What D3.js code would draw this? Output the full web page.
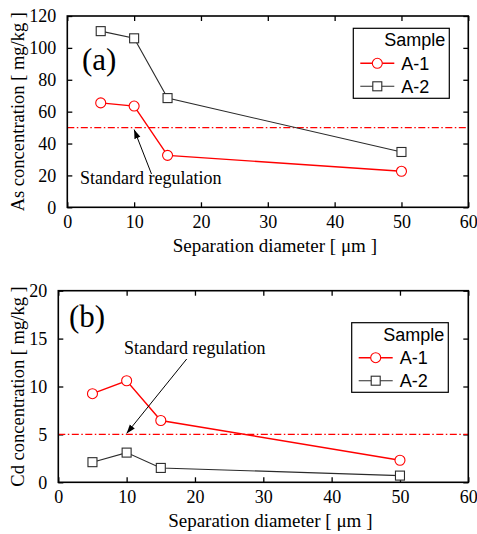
<!DOCTYPE html>
<html>
<head>
<meta charset="utf-8">
<script src="https://cdn.jsdelivr.net/npm/d3@7"></script>
<style>
  html, body { margin: 0; padding: 0; background: #fff; }
  svg { display: block; }
</style>
</head>
<body>
<script>
// Separation diameters (µm)
const diameters = [5, 10, 15, 50];

// (a) Arsenic concentration, mg/kg
const asA1 = [65.5, 63.5, 32.6, 22.6];
const asA2 = [110.5, 106, 68.5, 34.7];
const asStandard = 50;

// (b) Cadmium concentration, mg/kg
const cdA1 = [9.25, 10.6, 6.45, 2.3];
const cdA2 = [2.1, 3.1, 1.5, 0.7];
const cdStandard = 5;

const xTicks = [0, 10, 20, 30, 40, 50, 60];
const asTicks = [0, 20, 40, 60, 80, 100, 120];
const cdTicks = [0, 5, 10, 15, 20];
const sampleNames = ["A-1", "A-2"];

const W = 477, H = 534;
const RED = "#ff0000", DARK = "#2b2b2b";
const SERIF = "Liberation Serif, Times New Roman, serif";
const SANS = "Liberation Sans, Arial, sans-serif";

const svg = d3.select("body").append("svg")
  .attr("width", W).attr("height", H);

const defs = svg.append("defs");
defs.append("marker")
  .attr("id", "arrowhead")
  .attr("viewBox", "0 0 10 10")
  .attr("refX", 10).attr("refY", 5)
  .attr("markerWidth", 9).attr("markerHeight", 9)
  .attr("markerUnits", "userSpaceOnUse")
  .attr("orient", "auto")
  .append("path").attr("d", "M0,1.5 L10,5 L0,8.5 Z").attr("fill", "#000");

function panel(cfg) {
  const x = d3.scaleLinear().domain([0, 60]).range([cfg.left, cfg.right]);
  const y = d3.scaleLinear().domain(cfg.yDomain).range([cfg.bottom, cfg.top]);
  const g = svg.append("g");
  const tick = 5;

  // Axes with inward ticks on all four sides
  const axB = g.append("g").attr("transform", `translate(0,${cfg.bottom})`)
    .call(d3.axisBottom(x).tickValues(xTicks).tickSize(-tick).tickPadding(tick + 6).tickFormat(d3.format("d")));
  const axT = g.append("g").attr("transform", `translate(0,${cfg.top})`)
    .call(d3.axisTop(x).tickValues(xTicks).tickSize(-tick).tickFormat(""));
  const axL = g.append("g").attr("transform", `translate(${cfg.left},0)`)
    .call(d3.axisLeft(y).tickValues(cfg.yTicks).tickSize(-tick).tickPadding(tick + 6).tickFormat(d3.format("d")));
  const axR = g.append("g").attr("transform", `translate(${cfg.right},0)`)
    .call(d3.axisRight(y).tickValues(cfg.yTicks).tickSize(-tick).tickFormat(""));
  [axB, axT, axL, axR].forEach(a => {
    a.attr("font-family", SERIF).attr("font-size", 18);
    a.select(".domain").remove();
    a.selectAll(".tick line").attr("stroke", "#000").attr("stroke-width", 1.3);
    a.selectAll("text").attr("fill", "#000");
  });
  axB.selectAll("text").attr("dy", "0.55em");

  // Standard regulation line
  g.append("line")
    .attr("x1", cfg.left).attr("x2", cfg.right)
    .attr("y1", y(cfg.standard)).attr("y2", y(cfg.standard))
    .attr("stroke", RED).attr("stroke-width", 1.4)
    .attr("stroke-dasharray", "7,2.5,1.5,2.5");

  const line = d3.line().x((d, i) => x(diameters[i])).y(d => y(d));

  // A-2 series
  g.append("path").datum(cfg.a2).attr("d", line)
    .attr("fill", "none").attr("stroke", DARK).attr("stroke-width", 1.1);
  g.selectAll(".sq").data(cfg.a2).join("rect")
    .attr("x", (d, i) => x(diameters[i]) - 4.5).attr("y", d => y(d) - 4.5)
    .attr("width", 9).attr("height", 9)
    .attr("fill", "#fff").attr("stroke", DARK).attr("stroke-width", 1.1);

  // A-1 series
  g.append("path").datum(cfg.a1).attr("d", line)
    .attr("fill", "none").attr("stroke", RED).attr("stroke-width", 1.4);
  g.selectAll(".ci").data(cfg.a1).join("circle")
    .attr("cx", (d, i) => x(diameters[i])).attr("cy", d => y(d)).attr("r", 5)
    .attr("fill", "#fff").attr("stroke", RED).attr("stroke-width", 1.1);

  // Frame
  g.append("rect")
    .attr("x", cfg.left).attr("y", cfg.top)
    .attr("width", cfg.right - cfg.left).attr("height", cfg.bottom - cfg.top)
    .attr("fill", "none").attr("stroke", "#000").attr("stroke-width", 1.6);

  // Panel letter
  g.append("text").attr("x", cfg.letterX).attr("y", cfg.letterY)
    .attr("font-family", SERIF).attr("font-size", 31).text(cfg.letter);

  // Annotation with arrow to the regulation line
  g.append("text").attr("x", cfg.noteX).attr("y", cfg.noteY)
    .attr("font-family", SERIF).attr("font-size", 18).text("Standard regulation");
  g.append("line")
    .attr("x1", cfg.arrowFrom[0]).attr("y1", cfg.arrowFrom[1])
    .attr("x2", x(cfg.arrowToX)).attr("y2", y(cfg.standard) + cfg.arrowTipOffset)
    .attr("stroke", "#000").attr("stroke-width", 1)
    .attr("marker-end", "url(#arrowhead)");

  // Axis titles
  g.append("text")
    .attr("x", (cfg.left + cfg.right) / 2 + 7).attr("y", cfg.bottom + 45)
    .attr("text-anchor", "middle")
    .attr("font-family", SERIF).attr("font-size", 19)
    .text("Separation diameter [ \u03bcm ]");
  g.append("text")
    .attr("transform", `translate(${cfg.yTitleX},${(cfg.top + cfg.bottom) / 2}) rotate(-90)`)
    .attr("text-anchor", "middle")
    .attr("font-family", SERIF).attr("font-size", 18.5)
    .text(cfg.yTitle);

  // Legend
  const L = cfg.legend;
  const lg = g.append("g");
  lg.append("rect").attr("x", L.x).attr("y", L.y).attr("width", L.w).attr("height", L.h)
    .attr("fill", "#fff").attr("stroke", "#000").attr("stroke-width", 1.2);
  lg.append("text").attr("x", L.x + L.w - 4).attr("y", L.y + 18)
    .attr("text-anchor", "end").attr("font-family", SANS).attr("font-size", 18).text("Sample");
  sampleNames.forEach((name, i) => {
    const cy = L.y + 35 + i * 23;
    const color = i === 0 ? RED : DARK;
    lg.append("line").attr("x1", L.x + 7).attr("x2", L.x + 41).attr("y1", cy).attr("y2", cy)
      .attr("stroke", color).attr("stroke-width", i === 0 ? 1.4 : 1.1);
    if (i === 0) {
      lg.append("circle").attr("cx", L.x + 24).attr("cy", cy).attr("r", 5)
        .attr("fill", "#fff").attr("stroke", RED).attr("stroke-width", 1.1);
    } else {
      lg.append("rect").attr("x", L.x + 19.5).attr("y", cy - 4.5).attr("width", 9).attr("height", 9)
        .attr("fill", "#fff").attr("stroke", DARK).attr("stroke-width", 1.1);
    }
    lg.append("text").attr("x", L.x + 48).attr("y", cy + 6.5)
      .attr("font-family", SANS).attr("font-size", 18).text(name);
  });
}

panel({
  left: 67.3, right: 468.3, top: 16, bottom: 207.3,
  yDomain: [0, 120], yTicks: asTicks, standard: asStandard,
  a1: asA1, a2: asA2,
  letter: "(a)", letterX: 82, letterY: 70,
  noteX: 80, noteY: 184, arrowFrom: [151.5, 174], arrowToX: 10, arrowTipOffset: 2,
  yTitle: "As concentration [ mg/kg ]", yTitleX: 24,
  legend: { x: 353.3, y: 28.3, w: 96, h: 70 }
});

panel({
  left: 58.3, right: 468.3, top: 290.7, bottom: 482.3,
  yDomain: [0, 20], yTicks: cdTicks, standard: cdStandard,
  a1: cdA1, a2: cdA2,
  letter: "(b)", letterX: 69, letterY: 327,
  noteX: 124, noteY: 354, arrowFrom: [186.7, 359], arrowToX: 10, arrowTipOffset: -1,
  yTitle: "Cd concentration [ mg/kg ]", yTitleX: 24,
  legend: { x: 351.7, y: 322.7, w: 96.6, h: 69.6 }
});
</script>
</body>
</html>
